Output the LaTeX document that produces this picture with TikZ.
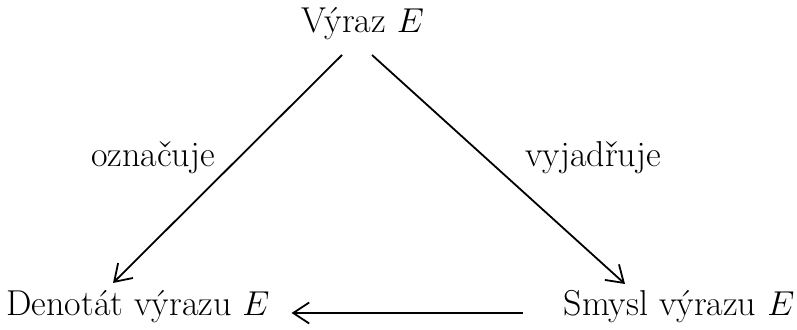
\documentclass[tikz,border=0pt]{standalone}
\usepackage{tikz}
\usetikzlibrary{positioning, arrows.meta, calc}

\tikzset{
  term/.style={font=\fontsize{18}{22}\selectfont, anchor=base},
  rel/.style={-{Straight Barb[length=8pt,width=10.5pt,line width=0.9pt]}, line width=0.9pt},
  lab/.style={font=\fontsize{18}{22}\selectfont, anchor=base}
}

\begin{document}
\begin{tikzpicture}[x=0.5pt, y=-0.5pt]
\useasboundingbox (0,0) rectangle (797,330);

% vrcholy trojuhelniku
\node[term] (vyraz) at (363, 33) {Výraz $E$};
\node[term] (denot) at (138, 316) {Denotát výrazu $E$};
\node[term] (smysl) at (679, 316) {Smysl výrazu $E$};

% popisky
\node[lab] (ozn) at (153, 167) {označuje};
\node[lab] (vyj) at (593, 167) {vyjadřuje};

% sipky
\draw[rel] ($(vyraz.base)+(-21,22)$) -- ($(denot.base)+(-25,-33)$);
\draw[rel] ($(vyraz.base)+(9,22)$) -- ($(smysl.base)+(-54,-32)$);
\draw[rel] ($(smysl.base west)+(-34,-3)$) -- ($(denot.base east)+(15,-3)$);
\end{tikzpicture}
\end{document}
